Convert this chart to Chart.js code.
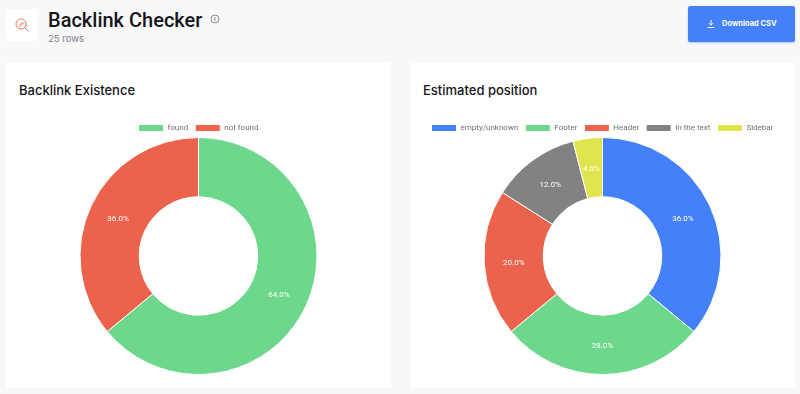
<!DOCTYPE html>
<html>
<head>
<meta charset="utf-8">
<title>Backlink Checker</title>
<script src="https://cdn.jsdelivr.net/npm/chart.js@4"></script>
<style>
html, body { margin: 0; padding: 0; width: 800px; height: 394px; overflow: hidden; background: #f8f8f9; font-family: Inter, Roboto, sans-serif; }
.logo { position: absolute; left: 6px; top: 9px; width: 32px; height: 32px; background: #fff; border-radius: 2px; }
.logo svg { position: absolute; left: 9px; top: 9px; }
h1 { position: absolute; left: 48px; top: 7px; margin: 0; font-family: Roboto, sans-serif; font-size: 20px; line-height: 26px; font-weight: 500; color: #15151a; white-space: nowrap; }
.info { position: absolute; left: 210px; top: 14px; }
.rows { position: absolute; left: 48px; top: 33px; font-size: 9.5px; line-height: 12px; color: #7b8290; }
.btn { position: absolute; left: 688px; top: 6px; width: 107px; height: 36px; background: #4480f7; border-radius: 2px; color: #fff; font-size: 7.5px; font-weight: 700; box-shadow: 0 1px 2px rgba(68,128,247,.4); }
.btn svg { position: absolute; left: 19px; top: 14px; }
.btn span { position: absolute; left: 34px; top: 0; line-height: 36px; white-space: nowrap; }
.card { position: absolute; top: 63px; width: 385px; height: 325px; background: #fff; }
.card h2 { position: absolute; left: 13px; top: 19px; margin: 0; font-size: 13px; line-height: 16px; font-weight: 500; color: #15151a; white-space: nowrap; }
.box { position: absolute; left: 0; top: 54px; width: 385px; height: 265px; }
</style>
</head>
<body>
<div class="logo">
  <svg width="14" height="14" viewBox="0 0 14 14" fill="none" stroke="#e8796a" stroke-width="1"><circle cx="6" cy="6" r="5"/><path d="M10 10l3.5 3.5M4 7.5l3.5-3.5 1 1-3.5 3.5z"/></svg>
</div>
<h1>Backlink Checker</h1>
<svg class="info" width="10" height="10" viewBox="0 0 10 10" fill="none" stroke="#8f8f8f"><circle cx="5" cy="5" r="4"/><path d="M5 3v4"/></svg>
<div class="rows">25 rows</div>
<div class="btn">
  <svg width="8" height="8" viewBox="0 0 8 8" fill="none" stroke="#fff"><path d="M4 0v5M2 3.2l2 2 2-2M0.5 7.5h7"/></svg>
  <span>Download CSV</span>
</div>

<div class="card" style="left:6px">
  <h2>Backlink Existence</h2>
  <div class="box"><canvas id="existenceChart"></canvas></div>
</div>
<div class="card" style="left:410px">
  <h2>Estimated position</h2>
  <div class="box"><canvas id="positionChart"></canvas></div>
</div>

<script>
const existenceLabels = ['found', 'not found'];
const existenceValues = [16, 9];
const existenceColors = ['#6dd88c', '#eb634d'];

const positionLabels = ['empty/unknown', 'Footer', 'Header', 'In the text', 'Sidebar'];
const positionValues = [9, 7, 5, 3, 1];
const positionColors = ['#4480f7', '#6dd88c', '#eb634d', '#828282', '#e0e54e'];

// percent text inside every slice
const sliceLabels = {
    id: 'sliceLabels',
    afterDatasetsDraw(chart) {
        const ctx = chart.ctx;
        const values = chart.data.datasets[0].data;
        const total = values.reduce((a, b) => a + b, 0);
        ctx.save();
        ctx.fillStyle = '#fff';
        ctx.font = '400 8px Roboto, sans-serif';
        ctx.textAlign = 'center';
        ctx.textBaseline = 'middle';
        chart.getDatasetMeta(0).data.forEach((arc, i) => {
            const p = arc.tooltipPosition();
            ctx.fillText((values[i] / total * 100).toFixed(1) + '%', p.x, p.y + 1);
        });
        ctx.restore();
    }
};

// legend sits closer to the ring than its padding would allow
const tightLegend = {
    id: 'tightLegend',
    beforeInit(chart) {
        const fit = chart.legend.fit;
        chart.legend.fit = function () {
            fit.call(this);
            this.height -= 5;
        };
    }
};

function makeDoughnut(id, labels, values, colors) {
    return new Chart(document.getElementById(id), {
        type: 'doughnut',
        data: {
            labels: labels,
            datasets: [{ data: values, backgroundColor: colors, borderColor: '#fff', borderWidth: 1 }]
        },
        options: {
            responsive: true,
            maintainAspectRatio: false,
            animation: false,
            cutout: '50%',
            layout: { padding: { top: 0, bottom: 7 } },
            plugins: {
                tooltip: { enabled: false },
                legend: {
                    position: 'top',
                    labels: {
                        boxWidth: 25,
                        boxHeight: 7,
                        padding: 7,
                        color: '#6f6f6f',
                        font: { size: 8, family: 'Roboto, sans-serif' }
                    }
                }
            }
        },
        plugins: [sliceLabels, tightLegend]
    });
}

makeDoughnut('existenceChart', existenceLabels, existenceValues, existenceColors);
makeDoughnut('positionChart', positionLabels, positionValues, positionColors);
</script>
</body>
</html>
